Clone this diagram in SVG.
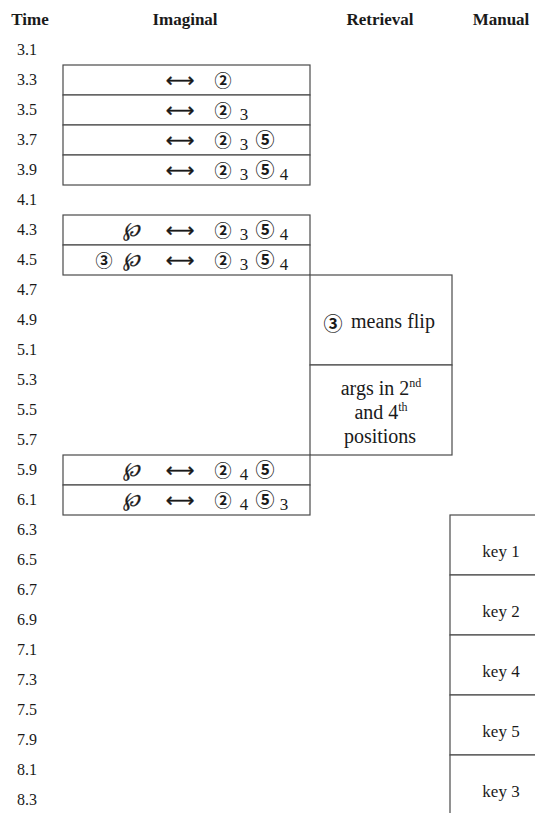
<svg xmlns="http://www.w3.org/2000/svg" width="535" height="813" viewBox="0 0 535 813">
<defs>
<style>
text{font-family:"Liberation Serif","Times New Roman",serif;fill:#1a1a1a}
.hd{font-size:17px;font-weight:bold;text-anchor:middle}
.tm{font-size:16px}
.box{fill:#fff;stroke:#4a4a4a;stroke-width:1.2}
.ar{font-family:"DejaVu Sans",sans-serif;font-size:20px;text-anchor:middle;stroke:#1a1a1a;stroke-width:0.4}
.c{font-family:"Noto Sans CJK JP","Noto Sans CJK SC",sans-serif;font-size:17px;font-weight:bold;text-anchor:middle}
.c5{font-family:"Noto Sans CJK JP","Noto Sans CJK SC",sans-serif;font-size:19px;font-weight:bold;text-anchor:middle}
.d{font-size:17px;text-anchor:middle}
.wp{font-family:"DejaVu Serif",serif;font-size:20px;font-style:italic;text-anchor:middle;stroke:#1a1a1a;stroke-width:0.3}
.rt{font-size:20px;text-anchor:middle}
.sup{font-size:12px}
.key{font-size:17px;text-anchor:middle}
</style>
</defs>
<g id="headers">
<text class="hd" x="30" y="25">Time</text>
<text class="hd" x="185" y="25">Imaginal</text>
<text class="hd" x="380" y="25">Retrieval</text>
<text class="hd" x="501" y="25">Manual</text>
</g>
<g id="time-axis">
<text class="tm" x="17" y="55">3.1</text>
<text class="tm" x="17" y="85">3.3</text>
<text class="tm" x="17" y="115">3.5</text>
<text class="tm" x="17" y="145">3.7</text>
<text class="tm" x="17" y="175">3.9</text>
<text class="tm" x="17" y="205">4.1</text>
<text class="tm" x="17" y="235">4.3</text>
<text class="tm" x="17" y="265">4.5</text>
<text class="tm" x="17" y="295">4.7</text>
<text class="tm" x="17" y="325">4.9</text>
<text class="tm" x="17" y="355">5.1</text>
<text class="tm" x="17" y="385">5.3</text>
<text class="tm" x="17" y="415">5.5</text>
<text class="tm" x="17" y="445">5.7</text>
<text class="tm" x="17" y="475">5.9</text>
<text class="tm" x="17" y="505">6.1</text>
<text class="tm" x="17" y="535">6.3</text>
<text class="tm" x="17" y="565">6.5</text>
<text class="tm" x="17" y="595">6.7</text>
<text class="tm" x="17" y="625">6.9</text>
<text class="tm" x="17" y="655">7.1</text>
<text class="tm" x="17" y="685">7.3</text>
<text class="tm" x="17" y="715">7.5</text>
<text class="tm" x="17" y="745">7.9</text>
<text class="tm" x="17" y="775">8.1</text>
<text class="tm" x="17" y="805">8.3</text>
</g>
<g id="img-3-3">
<rect class="box" x="63" y="65" width="247" height="30"/>
<text class="ar" x="180" y="87">⟷</text>
<text class="c" x="223" y="86.5">②</text>
</g>
<g id="img-3-5">
<rect class="box" x="63" y="95" width="247" height="30"/>
<text class="ar" x="180" y="117">⟷</text>
<text class="c" x="223" y="116.5">②</text>
<text class="d" x="244" y="120">3</text>
</g>
<g id="img-3-7">
<rect class="box" x="63" y="125" width="247" height="30"/>
<text class="ar" x="180" y="147">⟷</text>
<text class="c" x="223" y="146.5">②</text>
<text class="d" x="244" y="150">3</text>
<text class="c5" x="265" y="147">⑤</text>
</g>
<g id="img-3-9">
<rect class="box" x="63" y="155" width="247" height="30"/>
<text class="ar" x="180" y="177">⟷</text>
<text class="c" x="223" y="176.5">②</text>
<text class="d" x="244" y="180">3</text>
<text class="c5" x="265" y="177">⑤</text>
<text class="d" x="284" y="180">4</text>
</g>
<g id="img-4-3">
<rect class="box" x="63" y="215" width="247" height="30"/>
<text class="wp" x="131" y="236">℘</text>
<text class="ar" x="180" y="237">⟷</text>
<text class="c" x="223" y="236.5">②</text>
<text class="d" x="244" y="240">3</text>
<text class="c5" x="265" y="237">⑤</text>
<text class="d" x="284" y="240">4</text>
</g>
<g id="img-4-5">
<rect class="box" x="63" y="245" width="247" height="30"/>
<text class="c" x="104" y="266.5">③</text>
<text class="wp" x="131" y="266">℘</text>
<text class="ar" x="180" y="267">⟷</text>
<text class="c" x="223" y="266.5">②</text>
<text class="d" x="244" y="270">3</text>
<text class="c5" x="265" y="267">⑤</text>
<text class="d" x="284" y="270">4</text>
</g>
<g id="ret-flip">
<rect class="box" x="310" y="275" width="142" height="90"/>
<text class="c5" x="333" y="331">③</text>
<text class="rt" x="393" y="328">means flip</text>
</g>
<g id="ret-args">
<rect class="box" x="310" y="365" width="142" height="90"/>
<text class="rt" x="381" y="395">args in 2<tspan class="sup" dy="-8">nd</tspan></text>
<text class="rt" x="381" y="419">and 4<tspan class="sup" dy="-8">th</tspan></text>
<text class="rt" x="380" y="443">positions</text>
</g>
<g id="img-5-9">
<rect class="box" x="63" y="455" width="247" height="30"/>
<text class="wp" x="131" y="476">℘</text>
<text class="ar" x="180" y="477">⟷</text>
<text class="c" x="223" y="476.5">②</text>
<text class="d" x="244" y="480">4</text>
<text class="c5" x="265" y="477">⑤</text>
</g>
<g id="img-6-1">
<rect class="box" x="63" y="485" width="247" height="30"/>
<text class="wp" x="131" y="506">℘</text>
<text class="ar" x="180" y="507">⟷</text>
<text class="c" x="223" y="506.5">②</text>
<text class="d" x="244" y="510">4</text>
<text class="c5" x="265" y="507">⑤</text>
<text class="d" x="284" y="510">3</text>
</g>
<g id="key-1">
<rect class="box" x="450" y="515" width="102" height="60"/>
<text class="key" x="501" y="557">key 1</text>
</g>
<g id="key-2">
<rect class="box" x="450" y="575" width="102" height="60"/>
<text class="key" x="501" y="617">key 2</text>
</g>
<g id="key-4">
<rect class="box" x="450" y="635" width="102" height="60"/>
<text class="key" x="501" y="677">key 4</text>
</g>
<g id="key-5">
<rect class="box" x="450" y="695" width="102" height="60"/>
<text class="key" x="501" y="737">key 5</text>
</g>
<g id="key-3">
<rect class="box" x="450" y="755" width="102" height="60"/>
<text class="key" x="501" y="797">key 3</text>
</g>
<g id="connectors"></g>
</svg>
